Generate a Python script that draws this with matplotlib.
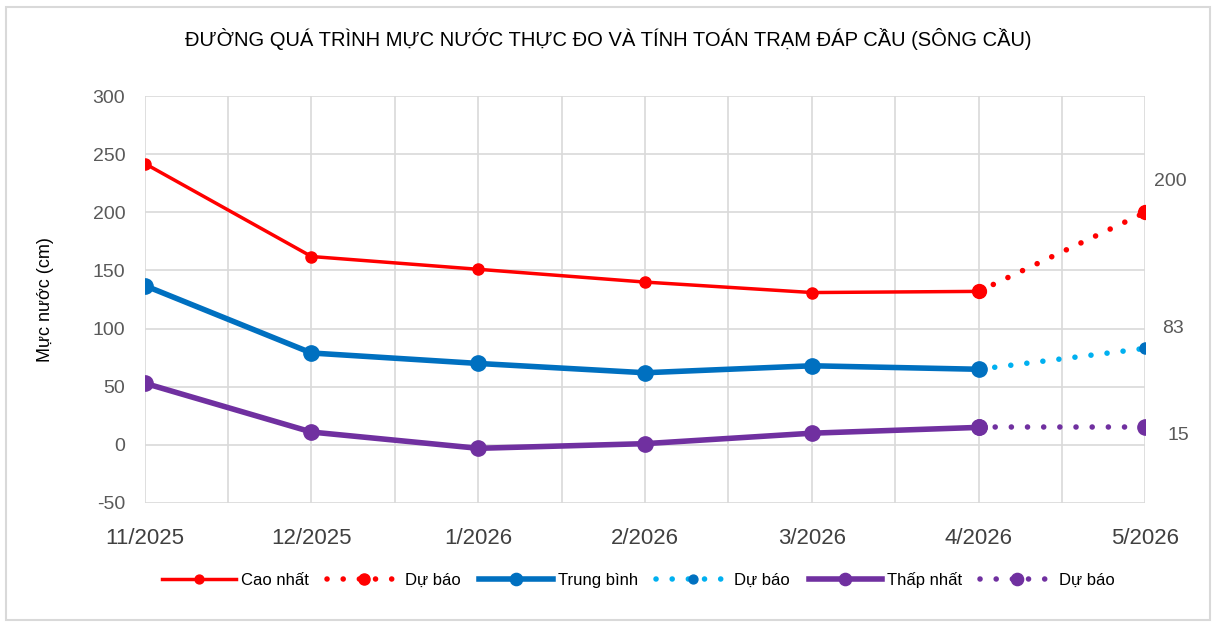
import matplotlib
matplotlib.use('Agg')
import matplotlib.pyplot as plt
from matplotlib.patches import Rectangle

plt.rcParams['font.family'] = ['Liberation Sans', 'DejaVu Sans']
plt.rcParams['axes.unicode_minus'] = False

# Data
months = ['11/2025', '12/2025', '1/2026', '2/2026', '3/2026', '4/2026', '5/2026']
cao_nhat = [242, 162, 151, 140, 131, 132]
trung_binh = [137, 79, 70, 62, 68, 65]
thap_nhat = [53, 11, -3, 1, 10, 15]
# forecast segments: last observed month -> next month
du_bao_cao = [132, 200]
du_bao_tb = [65, 83]
du_bao_thap = [15, 15]

RED = '#FF0000'
BLUE = '#0070C0'
LIGHT_BLUE = '#00B0F0'
PURPLE = '#7030A0'
GRID = '#D9D9D9'
TXT = '#595959'
DOTS = (0, (0.01, 2.9))

fig = plt.figure(figsize=(12.16, 6.24), dpi=100)
ax = fig.add_axes([0.119, 0.194, 0.823, 0.652])

x_obs = list(range(len(cao_nhat)))
x_fc = [len(cao_nhat) - 1, len(cao_nhat)]

# forecast lines first so the solid markers sit on top
ax.plot(x_fc, du_bao_cao, color=RED, lw=4, ls=DOTS, dash_capstyle='round',
        marker='o', ms=10, label='Dự báo', zorder=3)
ax.plot(x_fc, du_bao_tb, color=LIGHT_BLUE, lw=4, ls=DOTS, dash_capstyle='round',
        marker='o', ms=8, mfc=BLUE, mec=BLUE, markevery=[1], label='Dự báo', zorder=3)
ax.plot(x_fc, du_bao_thap, color=PURPLE, lw=4, ls=DOTS, dash_capstyle='round',
        marker='o', ms=11, label='Dự báo', zorder=3)

ax.plot(x_obs, cao_nhat, color=RED, lw=2.5, marker='o', ms=8, label='Cao nhất', zorder=4)
ax.plot(x_obs, trung_binh, color=BLUE, lw=4, marker='o', ms=11, label='Trung bình', zorder=4)
ax.plot(x_obs, thap_nhat, color=PURPLE, lw=4, marker='o', ms=11, label='Thấp nhất', zorder=4)

# data labels on forecast points
ax.annotate(str(du_bao_cao[-1]), (x_fc[-1], du_bao_cao[-1]), xytext=(18, 22),
            textcoords='offset points', ha='center', va='center', fontsize=14, color=TXT)
ax.annotate(str(du_bao_tb[-1]), (x_fc[-1], du_bao_tb[-1]), xytext=(20, 14),
            textcoords='offset points', ha='center', va='center', fontsize=14, color=TXT)
ax.annotate(str(du_bao_thap[-1]), (x_fc[-1], du_bao_thap[-1]), xytext=(24, -6),
            textcoords='offset points', ha='center', va='center', fontsize=14, color=TXT)

ax.set_xlim(0, len(months) - 1)
ax.set_ylim(-50, 300)
ax.set_yticks(range(-50, 301, 50))
ax.set_xticks(range(len(months)))
ax.set_xticklabels(months, fontsize=16, color='#404040')
ax.set_xticks([i + 0.5 for i in range(len(months) - 1)], minor=True)
ax.tick_params(axis='y', labelsize=14, colors=TXT, length=0, pad=14)
ax.tick_params(axis='x', which='major', length=0, pad=18)
ax.tick_params(axis='x', which='minor', length=0)
ax.grid(True, which='both', color=GRID, lw=1.2, zorder=0)
ax.set_axisbelow(True)
for s in ax.spines.values():
    s.set_visible(False)

ax.set_ylabel('Mực nước (cm)', fontsize=13, color='black', labelpad=28)
fig.text(0.5, 0.937, 'ĐƯỜNG QUÁ TRÌNH MỰC NƯỚC THỰC ĐO VÀ TÍNH TOÁN TRẠM ĐÁP CẦU (SÔNG CẦU)',
         ha='center', va='center', fontsize=14.5, color='black')

handles, labels = ax.get_legend_handles_labels()
order = [3, 0, 4, 1, 5, 2]
fig.legend([handles[i] for i in order], [labels[i] for i in order],
           loc='center', bbox_to_anchor=(0.525, 0.07), ncol=6, frameon=False,
           fontsize=12, handlelength=4.4, columnspacing=1.1, handletextpad=0.3,
           markerscale=0.8)

fig.patches.append(Rectangle((0.005, 0.006), 0.99, 0.983, transform=fig.transFigure,
                             fill=False, edgecolor=GRID, lw=1.5))

plt.savefig('out.png', dpi=100)
